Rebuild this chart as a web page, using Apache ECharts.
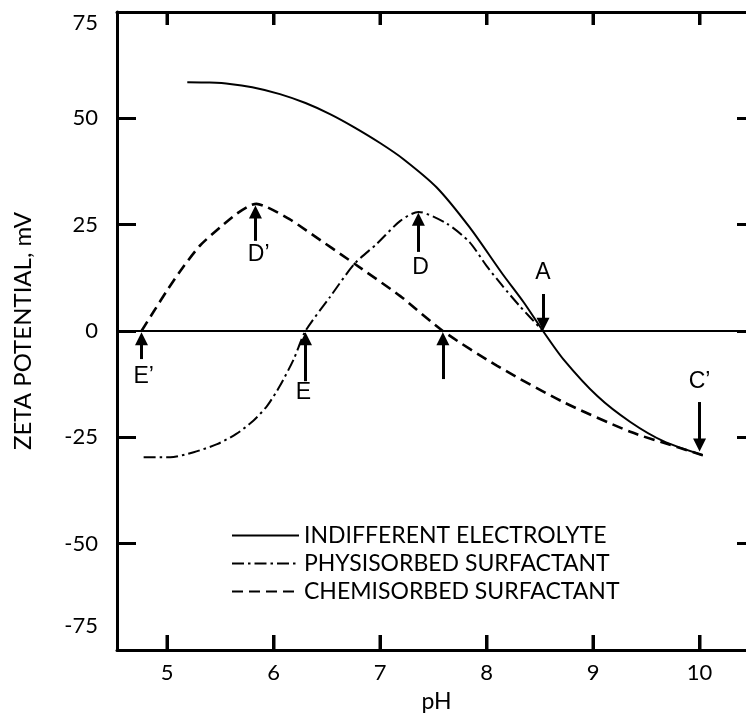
<!DOCTYPE html>
<html>
<head>
<meta charset="utf-8">
<script src="https://cdn.jsdelivr.net/npm/echarts@6/dist/echarts.min.js"></script>
<style>
html,body{margin:0;padding:0;background:#fff;}
#chart{width:746px;height:719px;}
</style>
</head>
<body>
<div id="chart"></div>
<script>
// ---- data ----
const seriesNames = ['INDIFFERENT ELECTROLYTE', 'PHYSISORBED SURFACTANT', 'CHEMISORBED SURFACTANT'];

const indifferentPH = [5.19, 5.4, 5.59, 5.8, 6.06, 6.3, 6.53, 6.75, 7.0, 7.22, 7.53, 7.84, 8.15, 8.35, 8.53, 8.72, 9.04, 9.35, 9.66, 10.03];
const indifferentZeta = [58.5, 58.4, 58.1, 57.3, 55.7, 53.6, 51.0, 48.0, 44.2, 40.4, 33.8, 24.4, 13.4, 6.7, 0, -6.6, -15.3, -21.4, -25.9, -29.2];

const physisorbedPH = [4.78, 5.03, 5.25, 5.47, 5.65, 5.81, 5.94, 6.06, 6.19, 6.30, 6.53, 6.76, 6.97, 7.19, 7.36, 7.63, 7.84, 8.0, 8.15, 8.31, 8.53];
const physisorbedZeta = [-29.7, -29.7, -28.5, -26.6, -24.2, -21.1, -17.6, -12.9, -6.6, 0, 8, 15.8, 20.5, 25.9, 28, 25.2, 20.9, 15.3, 10.6, 5.9, 0];

const chemisorbedPH = [4.76, 4.87, 5.01, 5.15, 5.31, 5.50, 5.65, 5.78, 5.84, 5.94, 6.15, 6.31, 6.76, 7.19, 7.59, 8.10, 8.72, 9.35, 9.79, 10.03];
const chemisorbedZeta = [0, 4.4, 9.9, 15.0, 20.1, 24.4, 27.5, 29.5, 29.9, 29.1, 26.3, 23.6, 15.8, 8.2, 0, -8.2, -16.7, -23.7, -27.3, -29.2];

const xTicks = [5, 6, 7, 8, 9, 10];
const yTicks = [-75, -50, -25, 0, 25, 50, 75];

// annotation arrows (pH, from zeta, to zeta) and their letters
const arrowPH = [4.76, 5.83, 6.30, 7.36, 7.59, 8.53, 10.0];
const arrowFrom = [-6.6, 21.2, -11.8, 18.6, -11.3, 8.7, -16.7];
const arrowTo = [-1.8, 28.0, -1.8, 26.3, -1.8, 1.6, -26.8];
const letterText = ['E’', 'D’', 'E', 'D', 'A', 'C’'];
const letterPH = [4.78, 5.86, 6.28, 7.38, 8.53, 10.0];
const letterZeta = [-10.8, 18.0, -14.6, 14.8, 13.6, -12.0];

// ---- chart ----
const FONT = 'Lato';
const X_MIN = 4.53, X_MAX = 10.53, Y_MIN = -75, Y_MAX = 75;
const GRID_L = 117, GRID_T = 12, GRID_W = 639, GRID_H = 638;
const zip = (a, b) => a.map((v, i) => [v, b[i]]);

const chart = echarts.init(document.getElementById('chart'));

const mkAxisLine = () => ({ show: true, onZero: false, lineStyle: { color: '#000', width: 3 } });
const mkTick = (len, custom) => {
  const t = { show: true, inside: true, length: len, lineStyle: { color: '#000', width: 3 } };
  if (custom) t.customValues = custom;
  return t;
};

const arrowMarks = arrowPH.map((x, i) => [{ coord: [x, arrowFrom[i]] }, { coord: [x, arrowTo[i]] }]);

const option = {
  animation: false,
  backgroundColor: '#fff',
  textStyle: { fontFamily: FONT, color: '#000' },
  grid: { left: GRID_L, top: GRID_T, width: GRID_W, height: GRID_H, outerBoundsMode: 'none' },
  legend: {
    data: seriesNames,
    orient: 'vertical',
    left: 226,
    top: 519,
    itemWidth: 67,
    itemHeight: 14,
    itemGap: 5,
    itemStyle: { opacity: 0 },
    textStyle: { fontFamily: FONT, fontSize: 23, color: '#000' },
    inactiveColor: '#000'
  },
  xAxis: [
    {
      type: 'value', min: X_MIN, max: X_MAX, position: 'bottom',
      name: 'pH', nameLocation: 'middle', nameGap: 40,
      nameTextStyle: { fontFamily: FONT, fontSize: 23, color: '#000' },
      axisLine: mkAxisLine(),
      axisTick: mkTick(15, xTicks),
      axisLabel: { show: true, margin: 12, fontFamily: FONT, fontSize: 22, color: '#000', customValues: xTicks },
      splitLine: { show: false }
    },
    {
      type: 'value', min: X_MIN, max: X_MAX, position: 'top',
      axisLine: mkAxisLine(),
      axisTick: mkTick(13, xTicks),
      axisLabel: { show: false, customValues: xTicks },
      splitLine: { show: false }
    }
  ],
  yAxis: [
    {
      type: 'value', min: Y_MIN, max: Y_MAX, interval: 25, position: 'left',
      name: 'ZETA POTENTIAL, mV', nameLocation: 'middle', nameGap: 82, nameRotate: 90,
      nameTextStyle: { fontFamily: FONT, fontSize: 24, color: '#000' },
      axisLine: mkAxisLine(),
      axisTick: mkTick(19),
      axisLabel: {
        show: true, margin: 19, fontFamily: FONT, fontSize: 22, color: '#000',
        customValues: yTicks,
        formatter: v => v === 75 ? '{t|75}' : (v === -75 ? '{b|-75}' : String(v)),
        rich: {
          t: { fontFamily: FONT, fontSize: 22, color: '#000', padding: [22, 0, 0, 0] },
          b: { fontFamily: FONT, fontSize: 22, color: '#000', padding: [0, 0, 48, 0] }
        }
      },
      splitLine: { show: false }
    },
    {
      type: 'value', min: Y_MIN, max: Y_MAX, interval: 25, position: 'right',
      axisLine: mkAxisLine(),
      axisTick: mkTick(19),
      axisLabel: { show: false },
      splitLine: { show: false }
    }
  ],
  series: [
    {
      name: 'zero', type: 'line', silent: true, symbol: 'none',
      data: [[X_MIN, 0], [X_MAX, 0]],
      lineStyle: { color: '#000', width: 2 },
      markLine: {
        silent: true, animation: false,
        symbol: ['none', 'triangle'], symbolSize: 13,
        lineStyle: { color: '#000', width: 3, type: 'solid' },
        itemStyle: { color: '#000' },
        label: { show: false },
        data: arrowMarks
      }
    },
    {
      name: seriesNames[0], type: 'line', symbol: 'none', smooth: 0.25,
      data: zip(indifferentPH, indifferentZeta),
      itemStyle: { color: '#000' },
      lineStyle: { color: '#000', width: 2, type: 'solid' },
      z: 3
    },
    {
      name: seriesNames[1], type: 'line', symbol: 'none', smooth: 0.25,
      data: zip(physisorbedPH, physisorbedZeta),
      itemStyle: { color: '#000' },
      lineStyle: { color: '#000', width: 2, type: [12, 4, 2.5, 4] },
      z: 3
    },
    {
      name: seriesNames[2], type: 'line', symbol: 'none', smooth: 0.25,
      data: zip(chemisorbedPH, chemisorbedZeta),
      itemStyle: { color: '#000' },
      lineStyle: { color: '#000', width: 2.6, type: [11, 6] },
      z: 3
    },
    {
      name: 'letters', type: 'scatter', silent: true, symbolSize: 0,
      data: letterText.map((t, i) => [letterPH[i], letterZeta[i], t]),
      itemStyle: { color: 'rgba(0,0,0,0)', opacity: 1 },
      label: {
        show: true, position: 'inside', formatter: p => p.data[2],
        fontFamily: 'Liberation Sans', fontSize: 23, color: '#000', opacity: 1
      },
      z: 5
    }
  ]
};

chart.setOption(option);

// inner x tick marks on the bottom and top frame edges, placed with the grid's x scale
function xToPixel(x) {
  let p = null;
  try { p = chart.convertToPixel({ gridIndex: 0 }, [x, 0]); } catch (e) { p = null; }
  if (p && isFinite(p[0])) return p[0];
  return GRID_L + (x - X_MIN) / (X_MAX - X_MIN) * GRID_W;
}
const yBottom = GRID_T + GRID_H, yTop = GRID_T;
const tickEls = [];
xTicks.forEach(x => {
  const px = Math.round(xToPixel(x));
  tickEls.push({ type: 'line', z: 100, silent: true, shape: { x1: px, y1: yBottom, x2: px, y2: yBottom - 15 }, style: { stroke: '#000', lineWidth: 3 } });
  tickEls.push({ type: 'line', z: 100, silent: true, shape: { x1: px, y1: yTop, x2: px, y2: yTop + 13 }, style: { stroke: '#000', lineWidth: 3 } });
});
chart.setOption({ graphic: { elements: tickEls } });
</script>
</body>
</html>
